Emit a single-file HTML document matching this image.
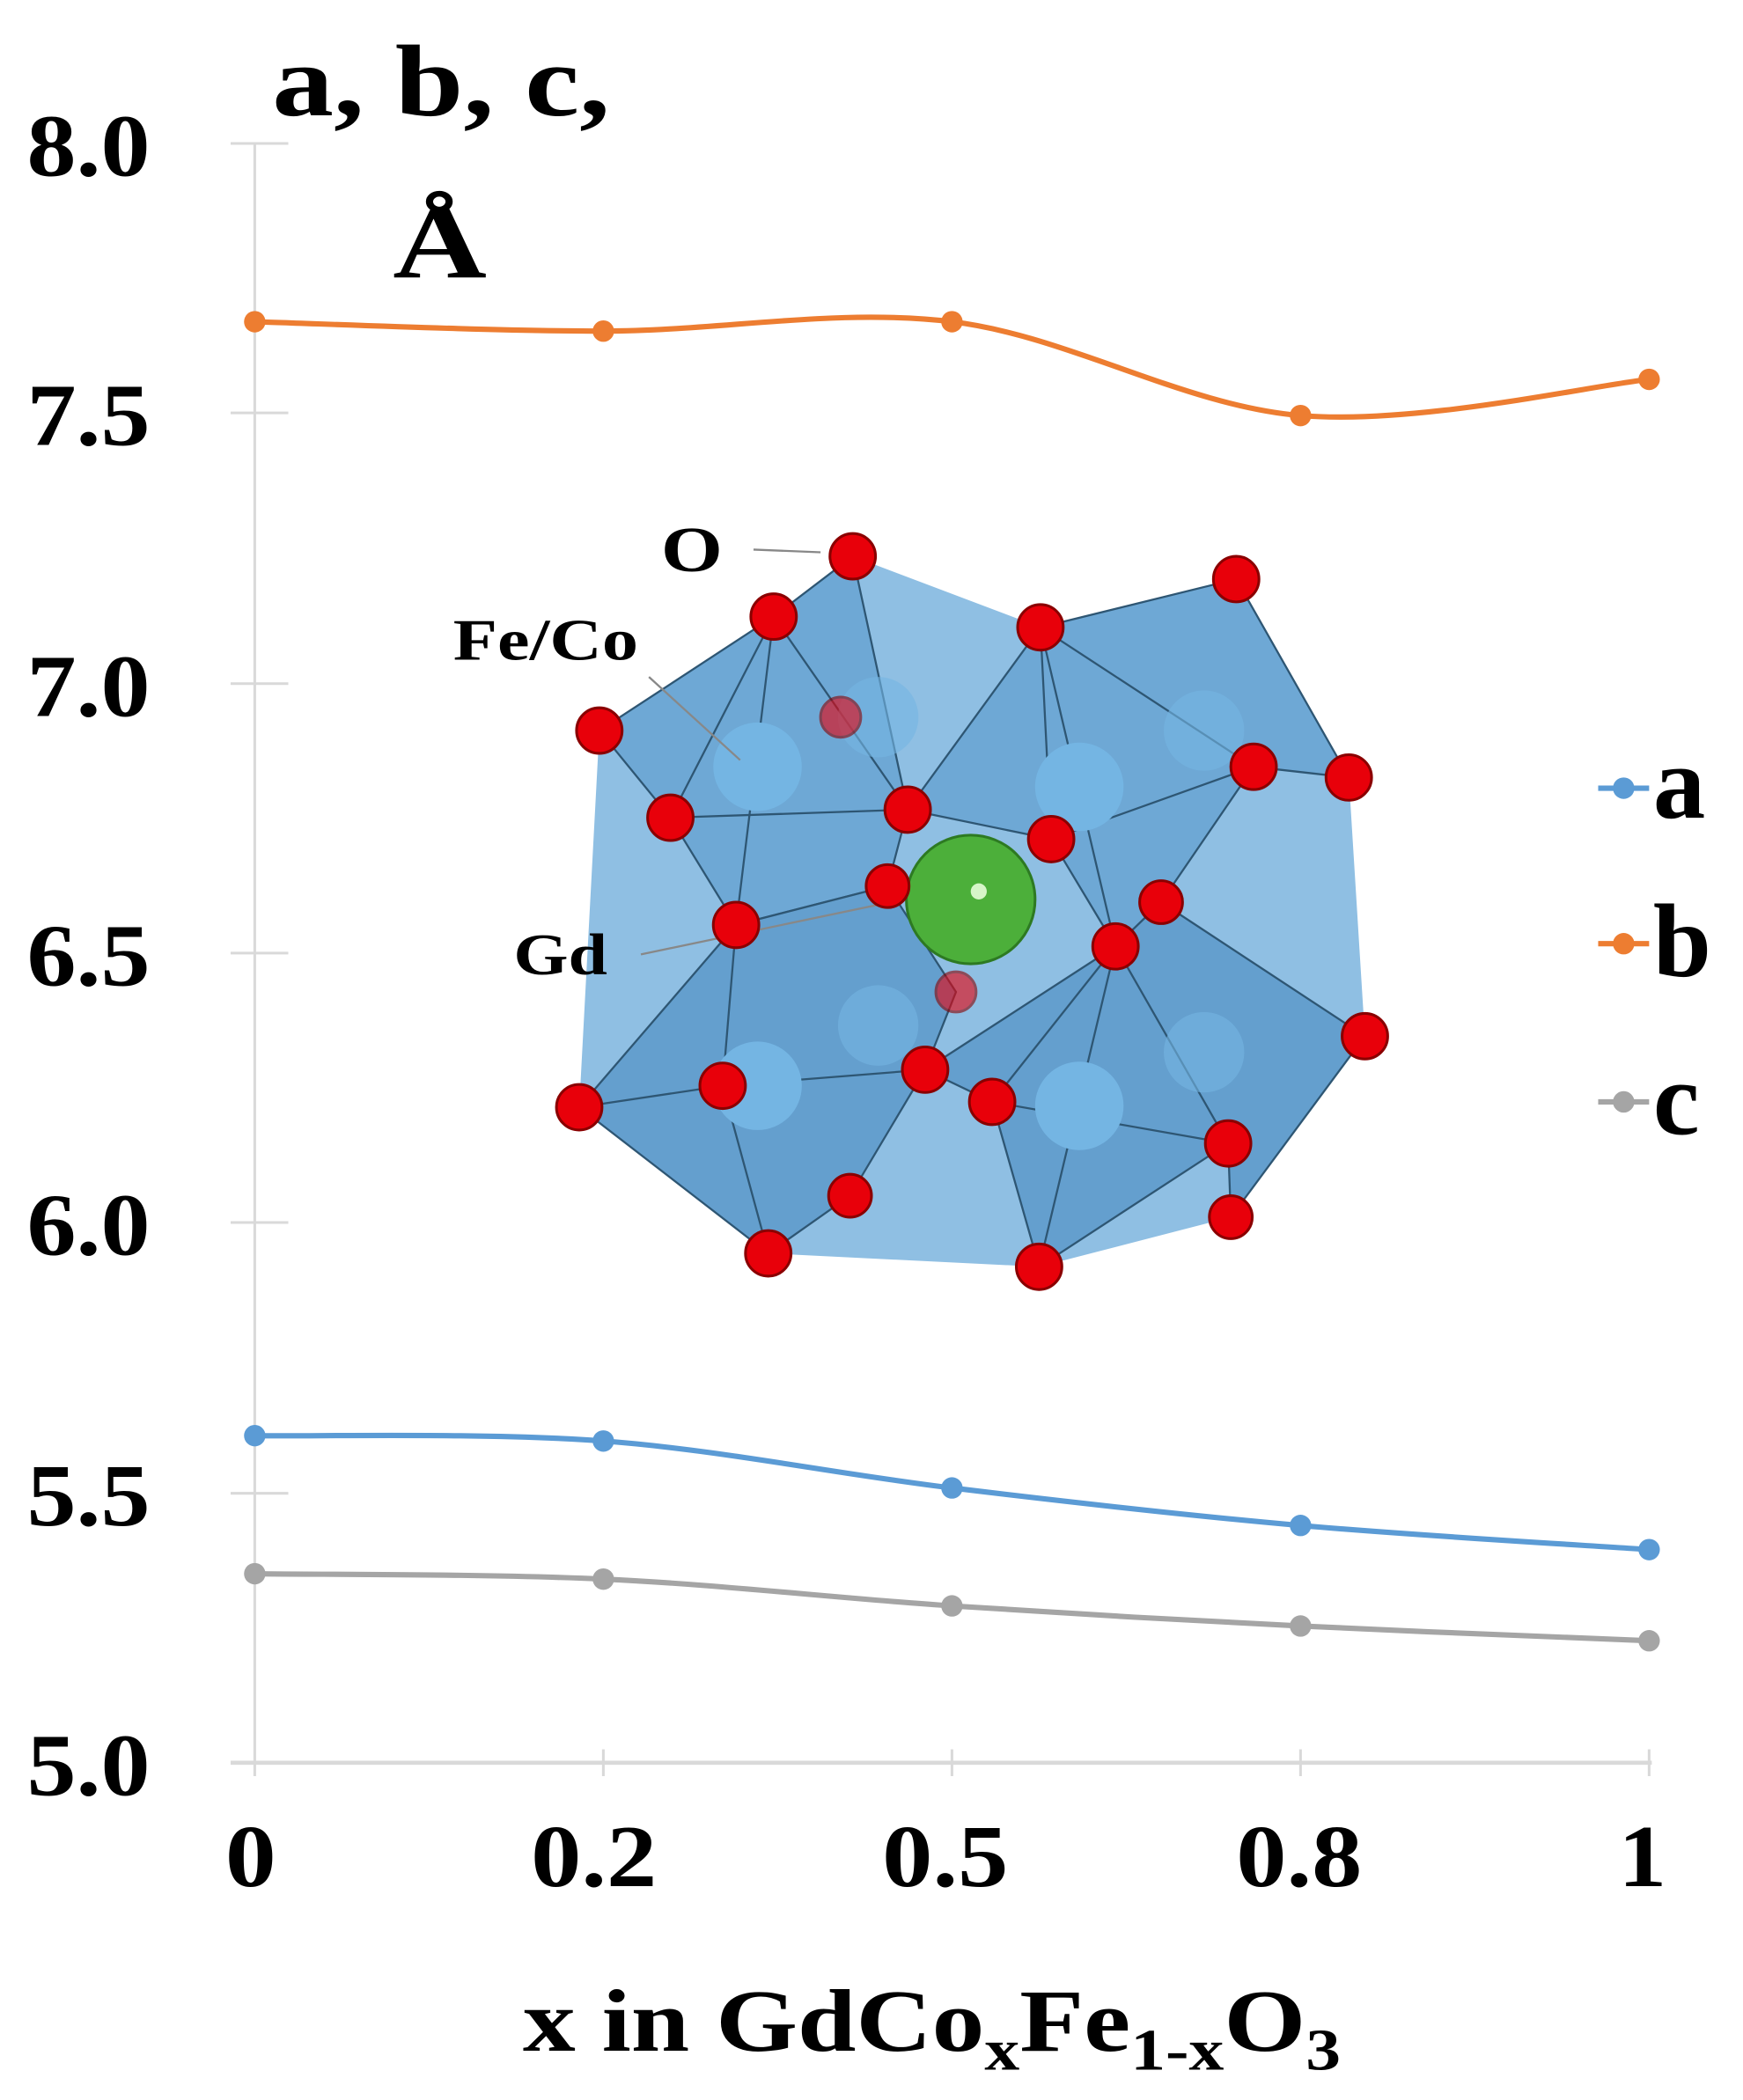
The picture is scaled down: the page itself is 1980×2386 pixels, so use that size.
<!DOCTYPE html>
<html><head><meta charset="utf-8"><style>html,body{margin:0;padding:0;background:#fff}svg{display:block}</style></head>
<body>
<svg width="1980" height="2386" viewBox="0 0 1300 1566.6" xmlns="http://www.w3.org/2000/svg" font-family="'Liberation Serif',serif" font-weight="bold">
<line x1="190" y1="107" x2="190" y2="1315" stroke="#d9d9d9" stroke-width="2"/>
<line x1="172" y1="1315" x2="1232" y2="1315" stroke="#d9d9d9" stroke-width="3"/>
<g stroke="#d9d9d9" stroke-width="2">
<line x1="172" y1="107" x2="215" y2="107"/><line x1="172" y1="308" x2="215" y2="308"/>
<line x1="172" y1="510" x2="215" y2="510"/><line x1="172" y1="711" x2="215" y2="711"/>
<line x1="172" y1="912" x2="215" y2="912"/><line x1="172" y1="1114" x2="215" y2="1114"/>
<line x1="190" y1="1315" x2="190" y2="1325"/><line x1="450" y1="1305" x2="450" y2="1325"/>
<line x1="710" y1="1305" x2="710" y2="1325"/><line x1="970" y1="1305" x2="970" y2="1325"/>
<line x1="1230" y1="1305" x2="1230" y2="1325"/>
</g>
<g font-size="66" fill="#000">
<text x="20" y="131" textLength="92" lengthAdjust="spacingAndGlyphs">8.0</text>
<text x="20" y="332" textLength="92" lengthAdjust="spacingAndGlyphs">7.5</text>
<text x="20" y="534" textLength="92" lengthAdjust="spacingAndGlyphs">7.0</text>
<text x="20" y="735" textLength="92" lengthAdjust="spacingAndGlyphs">6.5</text>
<text x="20" y="936" textLength="92" lengthAdjust="spacingAndGlyphs">6.0</text>
<text x="20" y="1138" textLength="92" lengthAdjust="spacingAndGlyphs">5.5</text>
<text x="20" y="1339" textLength="92" lengthAdjust="spacingAndGlyphs">5.0</text>
</g>
<g font-size="66">
<text x="168" y="1407" textLength="38" lengthAdjust="spacingAndGlyphs">0</text>
<text x="396" y="1407" textLength="94" lengthAdjust="spacingAndGlyphs">0.2</text>
<text x="658" y="1407" textLength="94" lengthAdjust="spacingAndGlyphs">0.5</text>
<text x="922" y="1407" textLength="94" lengthAdjust="spacingAndGlyphs">0.8</text>
<text x="1207" y="1407" textLength="36" lengthAdjust="spacingAndGlyphs">1</text>
</g>
<text x="390" y="1530" font-size="66" textLength="610" lengthAdjust="spacingAndGlyphs">x in GdCo<tspan font-size="44" dy="14">x</tspan><tspan dy="-14">Fe</tspan><tspan font-size="44" dy="14">1-x</tspan><tspan dy="-14">O</tspan><tspan font-size="44" dy="14">3</tspan></text>
<text x="203" y="86" font-size="76" textLength="252" lengthAdjust="spacingAndGlyphs">a, b, c,</text>
<text x="293" y="207" font-size="78" textLength="70" lengthAdjust="spacingAndGlyphs">Å</text>

<polygon points="636,415 776,468 922,432 1006,580 1018,773 918,908 775,945 573,935 432,826 447,545 577,460" fill="#8fbfe3"/>
<g stroke="#2e5673" stroke-width="1.5" stroke-linejoin="round">
<polygon points="636,415 577,460 447,545 500,610 549,690 662,661 677,604" fill="#6aa5d3" fill-opacity="0.9"/>
<polygon points="776,468 922,432 1006,580 935,572 866,673 832,706 784,626 677,604" fill="#6aa5d3" fill-opacity="0.9"/>
<polygon points="549,690 432,826 573,935 634,892 690,798 713,740 662,661" fill="#5f9bcb" fill-opacity="0.9"/>
<polygon points="832,706 866,673 1018,773 918,908 916,853 775,945 740,822 690,798" fill="#5f9bcb" fill-opacity="0.9"/>
<polyline points="577,460 500,610 677,604 577,460 549,690" fill="none"/>
<polyline points="776,468 784,626 935,572 776,468 832,706" fill="none"/>
<polyline points="539,810 432,826 539,810 690,798 539,810 573,935 539,810 549,690" fill="none"/>
<polyline points="832,706 740,822 916,853 832,706 775,945" fill="none"/>
</g>
<g fill="#74b5e3">
<circle cx="565" cy="572" r="33"/><circle cx="805" cy="587" r="33"/><circle cx="655" cy="535" r="30" opacity=".6"/>
<circle cx="898" cy="545" r="30" opacity=".6"/><circle cx="565" cy="810" r="33"/><circle cx="805" cy="825" r="33"/>
<circle cx="898" cy="785" r="30" opacity=".6"/><circle cx="655" cy="765" r="30" opacity=".6"/>
</g>
<g stroke="#888" stroke-width="1.5"><line x1="562" y1="410" x2="612" y2="412"/><line x1="478" y1="712" x2="712" y2="663"/><line x1="484" y1="505" x2="552" y2="567"/></g>
<circle cx="724" cy="671" r="48" fill="#4caf3a"/><circle cx="724" cy="671" r="48" fill="none" stroke="#2d7a22" stroke-width="2"/>
<circle cx="730" cy="665" r="6" fill="#d6f5c8"/>
<g fill="#e8000a" stroke="#8a0000" stroke-width="2">
<circle cx="636" cy="415" r="17"/><circle cx="577" cy="460" r="17"/><circle cx="776" cy="468" r="17"/><circle cx="922" cy="432" r="17"/>
<circle cx="447" cy="545" r="17"/><circle cx="627" cy="535" r="15" opacity=".6"/><circle cx="935" cy="572" r="17"/><circle cx="1006" cy="580" r="17"/>
<circle cx="500" cy="610" r="17"/><circle cx="677" cy="604" r="17"/><circle cx="784" cy="626" r="17"/><circle cx="662" cy="661" r="16"/>
<circle cx="866" cy="673" r="16"/><circle cx="549" cy="690" r="17"/><circle cx="832" cy="706" r="17"/><circle cx="713" cy="740" r="15" opacity=".6"/>
<circle cx="1018" cy="773" r="17"/><circle cx="432" cy="826" r="17"/><circle cx="539" cy="810" r="17"/><circle cx="690" cy="798" r="17"/>
<circle cx="740" cy="822" r="17"/><circle cx="916" cy="853" r="17"/><circle cx="634" cy="892" r="16"/><circle cx="918" cy="908" r="16"/>
<circle cx="573" cy="935" r="17"/><circle cx="775" cy="945" r="17"/>
</g>
<g font-weight="bold">
<text x="493" y="426" font-size="48" textLength="46" lengthAdjust="spacingAndGlyphs">O</text>
<text x="338" y="492" font-size="44" textLength="138" lengthAdjust="spacingAndGlyphs">Fe/Co</text>
<text x="383" y="727" font-size="44" textLength="70" lengthAdjust="spacingAndGlyphs">Gd</text>
</g>

<path d="M190,240 C233,241.2 363,247 450,247 C537,247 623,229.5 710,240 C797,250.5 883,302.8 970,310 C1057,317.2 1187,287.5 1230,283" fill="none" stroke="#ed7d31" stroke-width="4"/>
<path d="M190,1071 C233,1071.7 363,1068.5 450,1075 C537,1081.5 623,1099.5 710,1110 C797,1120.5 883,1130.3 970,1138 C1057,1145.7 1187,1153 1230,1156" fill="none" stroke="#5b9bd5" stroke-width="4"/>
<path d="M190,1174 C233,1174.7 363,1174 450,1178 C537,1182 623,1192.2 710,1198 C797,1203.8 883,1208.7 970,1213 C1057,1217.3 1187,1222.2 1230,1224" fill="none" stroke="#a5a5a5" stroke-width="4"/>
<g fill="#ed7d31"><circle cx="190" cy="240" r="8"/><circle cx="450" cy="247" r="8"/><circle cx="710" cy="240" r="8"/><circle cx="970" cy="310" r="8"/><circle cx="1230" cy="283" r="8"/></g>
<g fill="#5b9bd5"><circle cx="190" cy="1071" r="8"/><circle cx="450" cy="1075" r="8"/><circle cx="710" cy="1110" r="8"/><circle cx="970" cy="1138" r="8"/><circle cx="1230" cy="1156" r="8"/></g>
<g fill="#a5a5a5"><circle cx="190" cy="1174" r="8"/><circle cx="450" cy="1178" r="8"/><circle cx="710" cy="1198" r="8"/><circle cx="970" cy="1213" r="8"/><circle cx="1230" cy="1224" r="8"/></g>

<line x1="1192" y1="588" x2="1230" y2="588" stroke="#5b9bd5" stroke-width="4"/><circle cx="1211" cy="588" r="8" fill="#5b9bd5"/>
<line x1="1192" y1="704" x2="1230" y2="704" stroke="#ed7d31" stroke-width="4"/><circle cx="1211" cy="704" r="8" fill="#ed7d31"/>
<line x1="1192" y1="822" x2="1230" y2="822" stroke="#a5a5a5" stroke-width="4"/><circle cx="1211" cy="822" r="8" fill="#a5a5a5"/>
<g font-size="78"><text x="1233" y="610">a</text><text x="1233" y="728">b</text><text x="1233" y="846">c</text></g>
</svg>
</body></html>
